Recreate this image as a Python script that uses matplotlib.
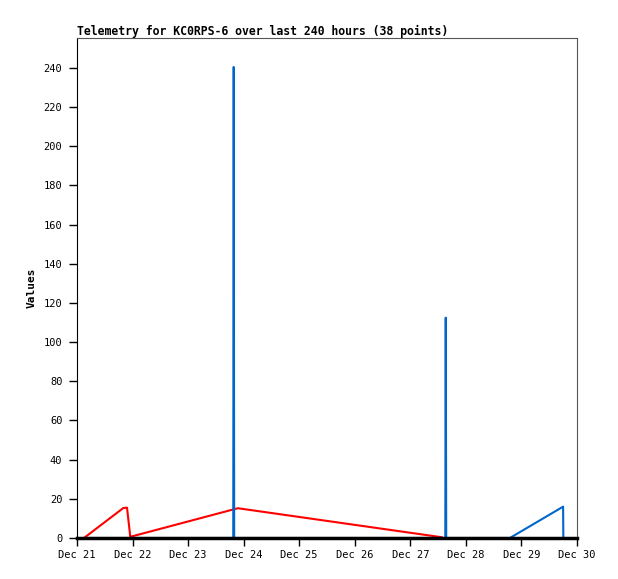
import matplotlib
matplotlib.use("Agg")
import matplotlib.pyplot as plt

# hours since Dec 21 00:00
red_hours = [3, 20, 21.6, 22.8, 23.0, 69.5, 157.5]
red_vals = [0, 15.3, 15.5, 3, 0.6, 15.2, 0.4]

blue_hours = [3, 67.5, 67.7, 67.9, 159.1, 159.3, 159.5, 187, 210, 210.1]
blue_vals = [0, 0, 240.5, 0, 0, 112.5, 0, 0, 16, 0]

black_hours = [0, 216]
black_vals = [0, 0]

day_labels = ["Dec 21", "Dec 22", "Dec 23", "Dec 24", "Dec 25",
              "Dec 26", "Dec 27", "Dec 28", "Dec 29", "Dec 30"]

mono = "DejaVu Sans Mono"

fig = plt.figure(figsize=(6.18, 5.79), dpi=100)
ax = fig.add_axes([77/618, 41/579, 500/618, 500/579])

ax.plot(red_hours, red_vals, color="#ff0000", lw=1.5)
ax.plot(blue_hours, blue_vals, color="#0066cc", lw=1.5)
ax.plot(black_hours, black_vals, color="black", lw=2.5, clip_on=False)

ax.set_xlim(0, 216)
ax.set_ylim(0, 255.3)
ax.set_xticks([i * 24 for i in range(len(day_labels))])
ax.set_xticklabels(day_labels, fontfamily=mono, fontsize=7.5)
ax.set_yticks(range(0, 241, 20))
ax.set_yticklabels([str(v) for v in range(0, 241, 20)], fontfamily=mono, fontsize=7.5)
ax.tick_params(axis="y", direction="out", length=5.5, width=1, pad=5)
ax.tick_params(axis="x", direction="out", length=5.5, width=1, pad=3)

for s in ["top", "right"]:
    ax.spines[s].set_color("#555555")
    ax.spines[s].set_linewidth(0.8)
ax.spines["left"].set_color("black")
ax.spines["bottom"].set_color("black")
ax.spines["bottom"].set_linewidth(2)

ax.set_ylabel("Values", fontfamily=mono, fontweight="bold", fontsize=8)
ax.yaxis.set_label_coords(-0.08, 0.5)
ax.set_title("Telemetry for KC0RPS-6 over last 240 hours (38 points)",
             fontfamily=mono, fontweight="bold", fontsize=8.3, loc="left", pad=2)

fig.savefig("out.png", dpi=100)
